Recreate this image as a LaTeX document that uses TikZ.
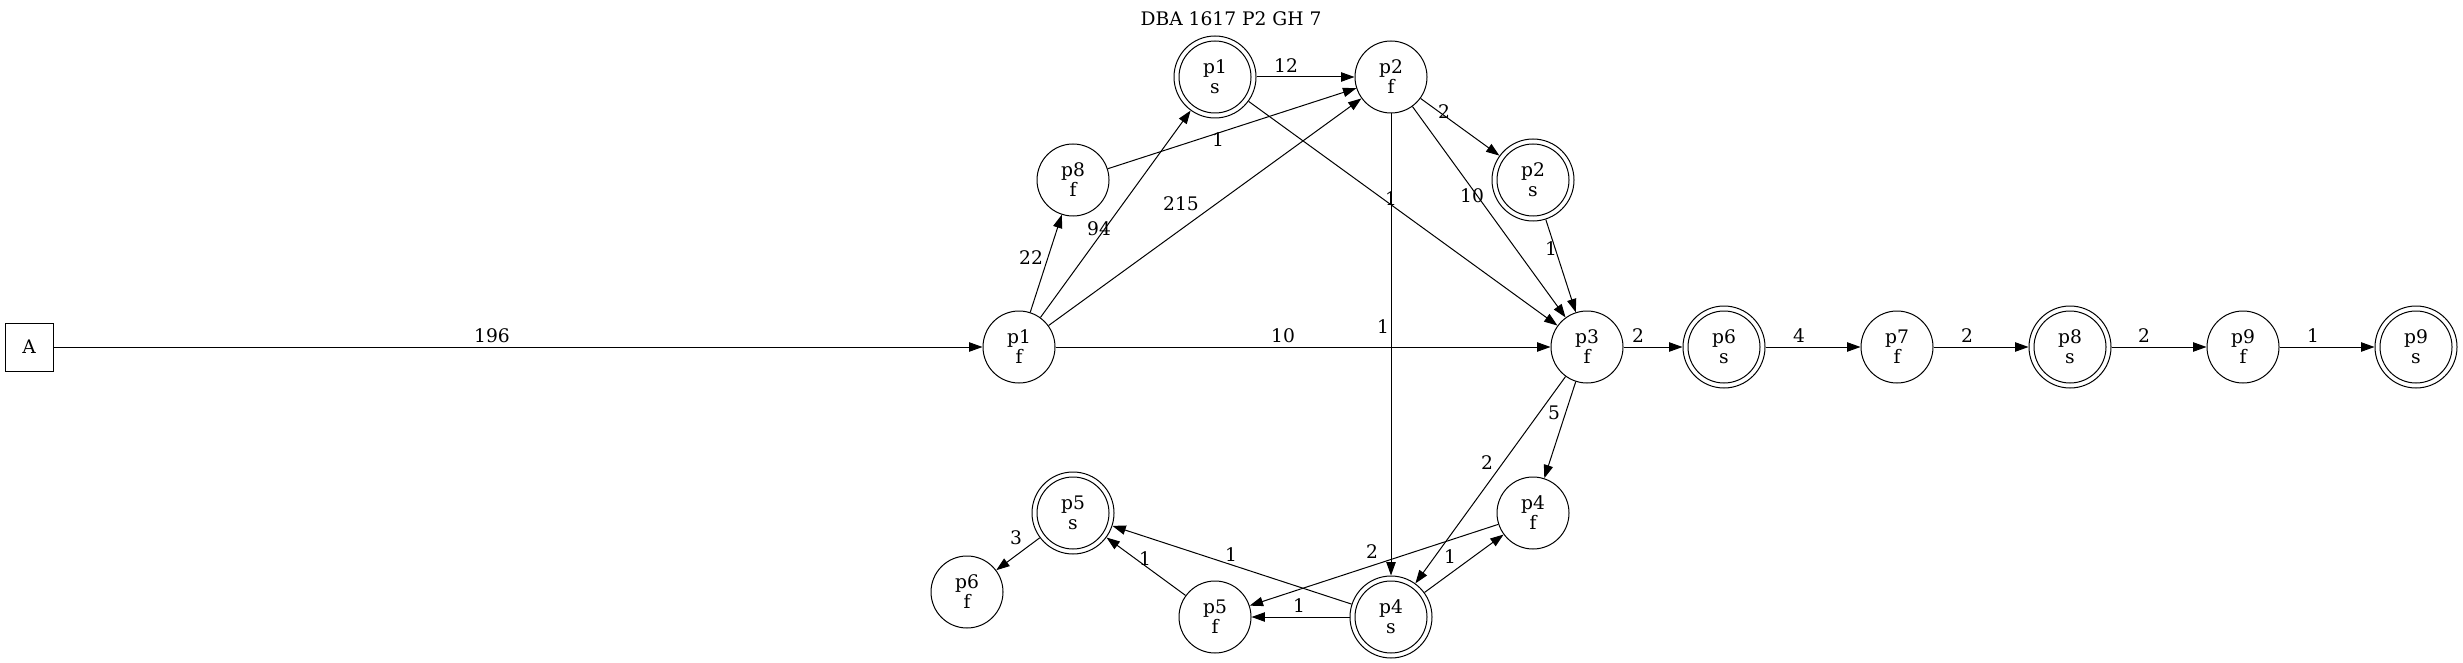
\documentclass[tikz,border=0pt]{standalone}
\usepackage{fontspec}
\setmainfont{DejaVu Serif}
\usetikzlibrary{arrows.meta}
\begin{document}
\begin{tikzpicture}[x=0.75pt,y=-0.75pt,
  every node/.style={font=\fontsize{14}{15}\selectfont},
  st/.style={circle, draw, line width=0.75pt, minimum size=54pt, inner sep=0pt, align=center},
  dst/.style={st, minimum size=61.5pt,
    path picture={\draw[line width=0.75pt] (path picture bounding box.center) circle[radius=27pt];}},
  boxst/.style={draw, line width=0.75pt, minimum width=36pt, minimum height=36pt, inner sep=0pt},
  edge/.style={-{Triangle[length=10pt,width=7pt]}, line width=0.75pt},
  lbl/.style={inner sep=0pt}
]
\useasboundingbox (0,0) rectangle (2463,663);
\node[lbl] (title) at (1231,19) {DBA 1617 P2 GH 7};
\node[boxst] (A) at (29,347) {A};
\node[st] (p1f) at (1019,347) {p1\\f};
\node[st] (p8f) at (1073,180) {p8\\f};
\node[dst] (p1s) at (1215,77) {p1\\s};
\node[st] (p2f) at (1391,77) {p2\\f};
\node[dst] (p2s) at (1533,180) {p2\\s};
\node[st] (p3f) at (1587,347) {p3\\f};
\node[st] (p4f) at (1533,513) {p4\\f};
\node[dst] (p4s) at (1391,617) {p4\\s};
\node[st] (p5f) at (1215,617) {p5\\f};
\node[dst] (p5s) at (1073,513) {p5\\s};
\node[st] (p6f) at (967,592) {p6\\f};
\node[dst] (p6s) at (1724,347) {p6\\s};
\node[st] (p7f) at (1897,347) {p7\\f};
\node[dst] (p8s) at (2070,347) {p8\\s};
\node[st] (p9f) at (2243,347) {p9\\f};
\node[dst] (p9s) at (2416,347) {p9\\s};

\draw[edge] (A) -- (p1f) node[lbl] at (492,336) {196};
\draw[edge] (p1f) -- (p8f) node[lbl] at (1031,258) {22};
\draw[edge] (p1f) -- (p1s) node[lbl] at (1099,229) {94};
\draw[edge] (p1f) -- (p2f) node[lbl] at (1181,204) {215};
\draw[edge] (p1f) -- (p3f) node[lbl] at (1283,336) {10};
\draw[edge] (p8f) -- (p2f) node[lbl] at (1218,140) {1};
\draw[edge] (p1s) -- (p2f) node[lbl] at (1286,66) {12};
\draw[edge] (p1s) -- (p3f) node[lbl] at (1391,199) {1};
\draw[edge] (p2f) -- (p2s) node[lbl] at (1444,112) {2};
\draw[edge] (p2f) -- (p3f) node[lbl] at (1472,196) {10};
\draw[edge] (p2f) -- (p4s) node[lbl] at (1383,327) {1};
\draw[edge] (p2s) -- (p3f) node[lbl] at (1551,249) {1};
\draw[edge] (p3f) -- (p6s) node[lbl] at (1638,336) {2};
\draw[edge] (p3f) -- (p4f) node[lbl] at (1554,413) {5};
\draw[edge] (p3f) -- (p4s) node[lbl] at (1487,463) {2};
\draw[edge] (p4s) -- (p4f) node[lbl] at (1450,557) {1};
\draw[edge] (p4f) -- (p5f) node[lbl] at (1372,552) {2};
\draw[edge] (p4s) -- (p5f) node[lbl] at (1299,606) {1};
\draw[edge] (p4s) -- (p5s) node[lbl] at (1231,555) {1};
\draw[edge] (p5f) -- (p5s) node[lbl] at (1145,559) {1};
\draw[edge] (p5s) -- (p6f) node[lbl] at (1016,538) {3};
\draw[edge] (p6s) -- (p7f) node[lbl] at (1799,336) {4};
\draw[edge] (p7f) -- (p8s) node[lbl] at (1967,336) {2};
\draw[edge] (p8s) -- (p9f) node[lbl] at (2144,336) {2};
\draw[edge] (p9f) -- (p9s) node[lbl] at (2313,336) {1};
\end{tikzpicture}
\end{document}
